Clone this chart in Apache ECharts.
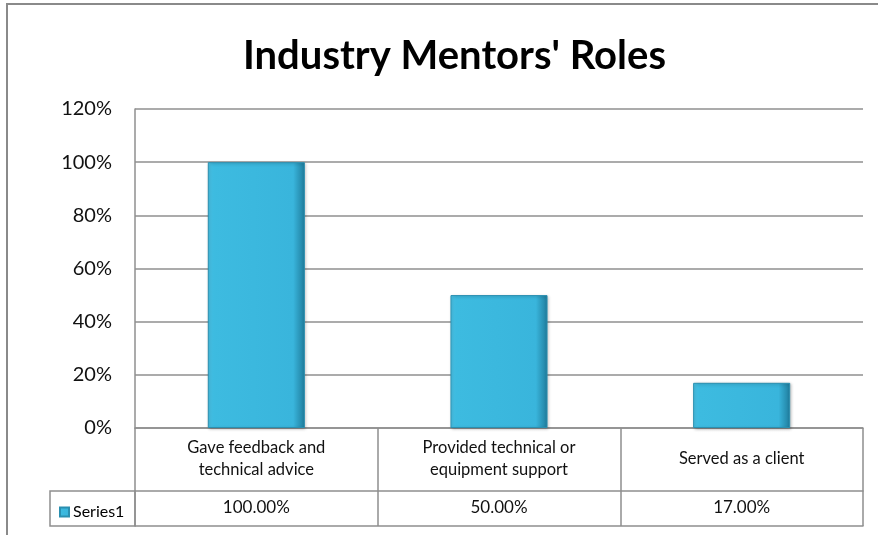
<!DOCTYPE html>
<html>
<head>
<meta charset="utf-8">
<script src="https://cdn.jsdelivr.net/npm/echarts@6/dist/echarts.min.js"></script>
<style>
  html, body { margin: 0; padding: 0; background: #fff; }
  #chart { width: 878px; height: 535px; }
</style>
</head>
<body>
<div id="chart"></div>
<script>
// chart data
var categories = ['Gave feedback and\ntechnical advice', 'Provided technical or\nequipment support', 'Served as a client'];
var seriesName = 'Series1';
var values = [1.00, 0.50, 0.17];
var yTicks = [0, 0.2, 0.4, 0.6, 0.8, 1.0, 1.2];

var font = 'Lato, "Open Sans", sans-serif';
var lineColor = '#8f8f8f';

var barColor = {
  type: 'linear', x: 0, y: 0, x2: 1, y2: 0,
  colorStops: [
    { offset: 0, color: '#4cc6ea' },
    { offset: 0.06, color: '#3dbbe0' },
    { offset: 0.88, color: '#39b5dc' },
    { offset: 1, color: '#1f7c9c' }
  ]
};

var chart = echarts.init(document.getElementById('chart'));
chart.setOption({
  animation: false,
  backgroundColor: '#fff',
  title: {
    text: "Industry Mentors' Roles",
    left: 238,
    top: 31,
    textStyle: { fontFamily: font, fontSize: 40, fontWeight: 'bold', color: '#000' }
  },
  legend: {
    data: [seriesName],
    left: 54,
    top: 499,
    icon: 'rect',
    itemWidth: 9,
    itemHeight: 9,
    itemGap: 4,
    textStyle: { fontFamily: font, fontSize: 16, color: '#000', padding: [0, 0, 0, -1] }
  },
  grid: { left: 135, right: 15, top: 109, bottom: 107 },
  xAxis: [
    {
      type: 'category',
      data: categories,
      position: 'bottom',
      axisLine: { show: true, lineStyle: { color: lineColor, width: 1.5 } },
      axisTick: { show: true, alignWithLabel: false, length: 98, lineStyle: { color: lineColor, width: 1.5 } },
      axisLabel: { fontFamily: font, fontSize: 16.5, color: '#111', lineHeight: 22, margin: 31, verticalAlign: 'middle' }
    },
    {
      type: 'category',
      data: values.map(function (v) { return (v * 100).toFixed(2) + '%'; }),
      position: 'bottom',
      offset: 63,
      axisLine: { show: true, lineStyle: { color: lineColor, width: 1.5 } },
      axisTick: { show: false },
      axisLabel: { fontFamily: font, fontSize: 17, color: '#111', margin: 17, verticalAlign: 'middle' }
    },
    {
      type: 'category',
      data: categories,
      position: 'bottom',
      offset: 98,
      axisLine: { show: true, lineStyle: { color: lineColor, width: 1.5 } },
      axisTick: { show: false },
      axisLabel: { show: false }
    }
  ],
  yAxis: {
    type: 'value',
    min: yTicks[0],
    max: yTicks[yTicks.length - 1],
    interval: 0.2,
    axisLine: { show: true, lineStyle: { color: lineColor, width: 1.5 } },
    axisTick: { show: false },
    splitLine: { lineStyle: { color: lineColor, width: 1.5 } },
    axisLabel: {
      fontFamily: font, fontSize: 20, color: '#111', margin: 23,
      formatter: function (v) { return Math.round(v * 100) + '%'; }
    }
  },
  graphic: [
    // outer chart frame
    { type: 'rect', shape: { x: 7, y: 4, width: 900, height: 560 }, style: { fill: 'none', stroke: '#8a8a8a', lineWidth: 2 }, silent: true },
    // legend key cell of the data table
    { type: 'rect', shape: { x: 50, y: 491, width: 85, height: 35 }, style: { fill: 'none', stroke: lineColor, lineWidth: 1.5 }, silent: true }
  ],
  series: [
    {
      name: seriesName,
      type: 'bar',
      data: values,
      barWidth: '40%',
      itemStyle: {
        color: barColor,
        borderColor: '#2a8fb0',
        borderWidth: 1,
        shadowColor: 'rgba(0,0,0,0.25)',
        shadowBlur: 3,
        shadowOffsetX: 1,
        shadowOffsetY: 1
      }
    }
  ]
});
</script>
</body>
</html>
